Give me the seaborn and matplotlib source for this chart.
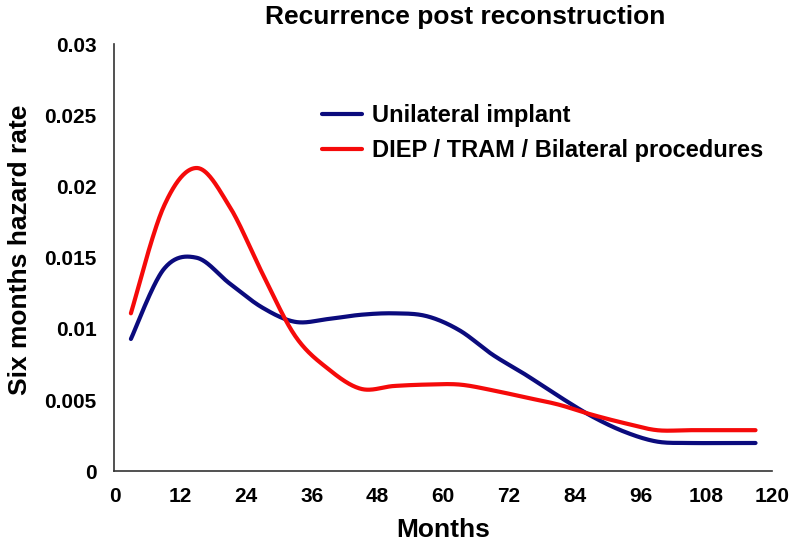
import numpy as np
import pandas as pd
import seaborn as sns
from matplotlib import pyplot as plt

# values (midpoints of six-month intervals)
months = [3, 9, 15, 21, 27, 33, 39, 45, 51, 57, 63, 69, 75, 81, 87, 93, 99, 105, 111, 117]
unilateral = [0.0093, 0.0142, 0.0150, 0.0132, 0.0115, 0.0105, 0.0107, 0.0110, 0.0111, 0.0109,
              0.0099, 0.0082, 0.0068, 0.0053, 0.0039, 0.0028, 0.0021, 0.0020, 0.0020, 0.0020]
diep_tram = [0.0111, 0.0186, 0.0213, 0.0186, 0.0139, 0.0095, 0.0072, 0.0058, 0.0060, 0.0061,
             0.0061, 0.0057, 0.0052, 0.0047, 0.0040, 0.0034, 0.0029, 0.0029, 0.0029, 0.0029]
series_names = ['Unilateral implant', 'DIEP / TRAM / Bilateral procedures']
series_colors = ['#0b0b7d', '#f50a0a']
x_ticks = list(range(0, 121, 12))
y_ticks = [0, 0.005, 0.01, 0.015, 0.02, 0.025, 0.03]
y_tick_labels = ['0', '0.005', '0.01', '0.015', '0.02', '0.025', '0.03']


def smooth(x, y, n=40):
    """Excel-style smoothed line: cubic Bezier segments with Catmull-Rom handles."""
    x = np.asarray(x, float)
    y = np.asarray(y, float)
    p = np.stack([x, y], axis=1)
    ext = np.vstack([p[0], p, p[-1]])
    t = np.linspace(0, 1, n)[:, None]
    out = []
    for i in range(len(p) - 1):
        p0, p3 = ext[i + 1], ext[i + 2]
        c1 = p0 + (ext[i + 2] - ext[i]) / 6
        c2 = p3 - (ext[i + 3] - ext[i + 1]) / 6
        seg = ((1 - t) ** 3) * p0 + 3 * ((1 - t) ** 2) * t * c1 + 3 * (1 - t) * t ** 2 * c2 + t ** 3 * p3
        out.append(seg if i == 0 else seg[1:])
    out = np.vstack(out)
    return out[:, 0], out[:, 1]


frames = []
for name, vals in zip(series_names, [unilateral, diep_tram]):
    sx, sy = smooth(months, vals)
    frames.append(pd.DataFrame({'month': sx, 'rate': sy, 'group': name}))
df = pd.concat(frames, ignore_index=True)

sns.set_style('white')
plt.rcParams['font.family'] = ['Liberation Sans', 'DejaVu Sans']
plt.rcParams['font.weight'] = 'bold'
plt.rcParams['text.color'] = 'black'
plt.rcParams['axes.labelcolor'] = 'black'
plt.rcParams['xtick.color'] = 'black'
plt.rcParams['ytick.color'] = 'black'

fig = plt.figure(figsize=(7.96, 5.53), dpi=100)
ax = fig.add_axes([0.1438, 0.1474, 0.8260, 0.7730])

sns.lineplot(data=df, x='month', y='rate', hue='group', hue_order=series_names,
             palette=dict(zip(series_names, series_colors)), linewidth=3.0,
             sort=False, estimator=None, ax=ax, legend=True)

ax.set_xlim(0, 120)
ax.set_ylim(0, 0.03)
ax.set_xticks(x_ticks)
ax.set_yticks(y_ticks)
ax.set_yticklabels(y_tick_labels)
ax.tick_params(axis='both', direction='out', length=4, width=1.2, colors='#222222',
               labelcolor='black', labelsize=15)
ax.tick_params(axis='x', pad=7)
ax.tick_params(axis='y', pad=9)
for lab in ax.get_xticklabels() + ax.get_yticklabels():
    lab.set_fontweight('bold')

for side in ['top', 'right']:
    ax.spines[side].set_visible(False)
for side in ['left', 'bottom']:
    ax.spines[side].set_color('#333333')
    ax.spines[side].set_linewidth(1.2)

ax.set_xlabel('Months', fontsize=19, fontweight='bold', color='black')
ax.set_ylabel('Six months hazard rate', fontsize=19, fontweight='bold', color='black')
ax.xaxis.set_label_coords(0.5, -0.108)
ax.yaxis.set_label_coords(-0.126, 0.518)

fig.text(465 / 796, 1 - 17 / 553, 'Recurrence post reconstruction', ha='center', va='center',
         fontsize=19, fontweight='bold', color='black')

leg = ax.legend(loc='upper left', bbox_to_anchor=(322 / 796, 1 - 104 / 553),
                bbox_transform=fig.transFigure, frameon=False, fontsize=17,
                handlelength=1.7, handletextpad=0.4, labelspacing=0.5,
                borderpad=0, borderaxespad=0, title=None)
for t in leg.get_texts():
    t.set_fontweight('bold')
    t.set_color('black')
for h in leg.get_lines():
    h.set_linewidth(3.0)

fig.savefig('out.png', dpi=100)
